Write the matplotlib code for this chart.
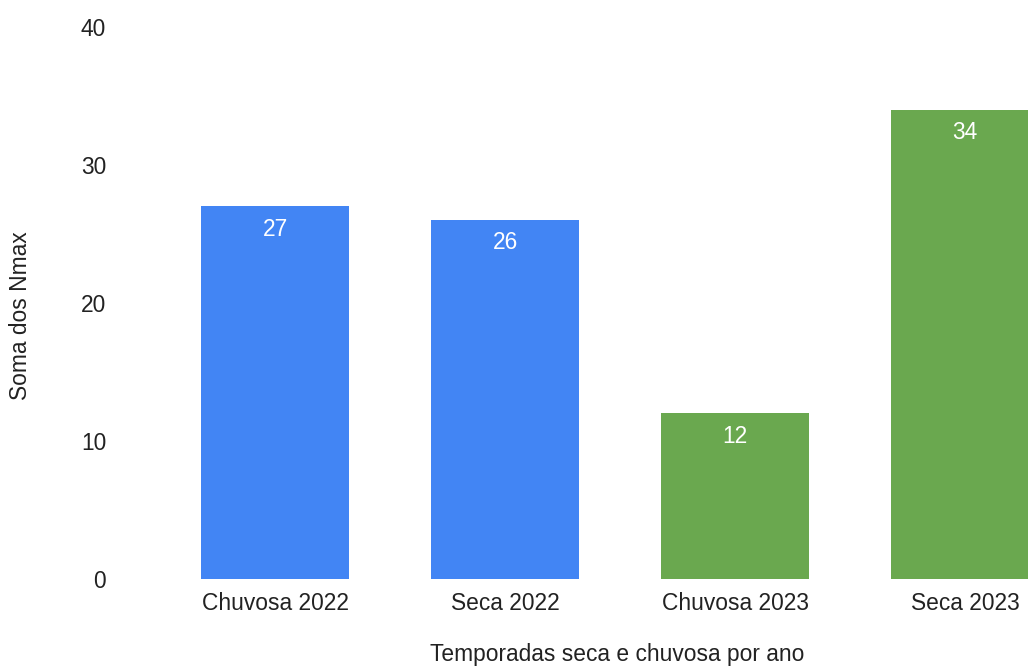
import matplotlib
matplotlib.use("Agg")
import matplotlib.pyplot as plt

# Data
categories = ["Chuvosa 2022", "Seca 2022", "Chuvosa 2023", "Seca 2023"]
values = [27, 26, 12, 34]
bar_colors = ["#4285F4", "#4285F4", "#6AA84F", "#6AA84F"]
y_ticks = [0, 10, 20, 30, 40]

plt.rcParams["font.family"] = ["Liberation Sans", "DejaVu Sans"]
text_color = "#222222"
fs = 16.4

W, H, DPI = 1028, 670, 100
fig = plt.figure(figsize=(W / DPI, H / DPI), dpi=DPI)

# Axes placement in pixels
ax_left, ax_right = 120, 1028
ax_bottom, ax_top = 579, 27
ax = fig.add_axes([ax_left / W, (H - ax_bottom) / H,
                   (ax_right - ax_left) / W, (ax_bottom - ax_top) / H])

x = list(range(len(categories)))
bars = ax.bar(x, values, width=0.643, color=bar_colors, zorder=2)

# Value labels inside the top of each bar
for rect, v in zip(bars, values):
    ax.annotate(str(v), xy=(rect.get_x() + rect.get_width() / 2, v),
                xytext=(0, -8), textcoords="offset points",
                ha="center", va="top", color="white", fontsize=fs)

ax.set_ylim(0, 40)
step = 230.0
ax.set_xlim((ax_left - 275) / step, (ax_right - 275) / step)
ax.set_yticks(y_ticks)
ax.set_yticklabels([str(t) for t in y_ticks])
ax.set_xticks(x)
ax.set_xticklabels(categories)
ax.tick_params(axis="both", length=0, labelsize=fs, colors=text_color)
ax.tick_params(axis="y", pad=10)
ax.tick_params(axis="x", pad=9.5)
for s in ax.spines.values():
    s.set_visible(False)

fig.text(21 / W, 1 - 316 / H, "Soma dos Nmax", rotation=90,
         ha="center", va="center", fontsize=fs, color=text_color)
fig.text(617 / W, 1 - 655 / H, "Temporadas seca e chuvosa por ano",
         ha="center", va="center", fontsize=fs, color=text_color)

fig.savefig("out.png", dpi=DPI)
